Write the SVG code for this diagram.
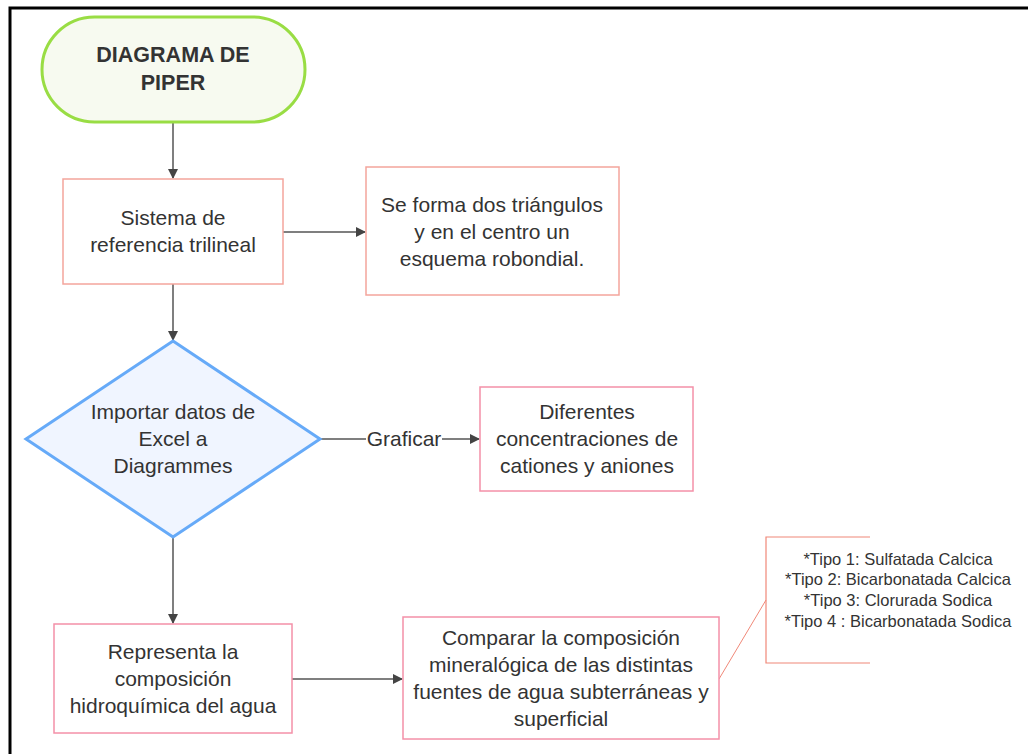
<svg xmlns="http://www.w3.org/2000/svg" width="1028" height="754" viewBox="0 0 1028 754">
<style>
text{font-family:"Liberation Sans",Arial,sans-serif;fill:#333;text-anchor:middle}
.t{font-size:21px}
.s{font-size:16.5px}
.b{font-size:21.5px;font-weight:bold}
.box{fill:#fff;stroke-width:1.5}
.salmon{stroke:#f4a59c}
.pink{stroke:#f490a8}
.c{stroke:#555;stroke-width:1.5;fill:none}
</style>
<defs>
<marker id="ah" markerWidth="10" markerHeight="10" refX="9" refY="5" orient="auto" markerUnits="userSpaceOnUse">
<path d="M0,0 L10,5 L0,10 Z" fill="#444"/>
</marker>
</defs>
<rect x="0" y="0" width="1028" height="754" fill="#fff"/>
<path d="M10,754 L10,8 L1028,8" fill="none" stroke="#000" stroke-width="3"/>
<g id="connectors">
<line class="c" x1="173" y1="122" x2="173" y2="178" marker-end="url(#ah)"/>
<line class="c" x1="283" y1="232" x2="365" y2="232" marker-end="url(#ah)"/>
<line class="c" x1="173" y1="284" x2="173" y2="340" marker-end="url(#ah)"/>
<line class="c" x1="320" y1="439" x2="366" y2="439"/>
<line class="c" x1="442" y1="439" x2="479" y2="439" marker-end="url(#ah)"/>
<text class="t" x="404" y="446">Graficar</text>
<line class="c" x1="173" y1="537" x2="173" y2="623" marker-end="url(#ah)"/>
<line class="c" x1="292" y1="679" x2="402" y2="679" marker-end="url(#ah)"/>
<line x1="719" y1="679" x2="766" y2="600" stroke="#f08878" stroke-width="1"/>
</g>
<g id="start">
<rect x="42" y="17" width="263" height="105" rx="52.5" fill="#f7faf0" stroke="#99dd44" stroke-width="3"/>
<text class="b" x="173" y="62">DIAGRAMA DE</text>
<text class="b" x="173" y="90">PIPER</text>
</g>
<g id="sistema">
<rect class="box salmon" x="63" y="179" width="220" height="105"/>
<text class="t" x="173" y="225">Sistema de</text>
<text class="t" x="173" y="252">referencia trilineal</text>
</g>
<g id="triangulos">
<rect class="box salmon" x="366" y="167" width="253" height="128"/>
<text class="t" x="492" y="212">Se forma dos triángulos</text>
<text class="t" x="492" y="239">y en el centro un</text>
<text class="t" x="492" y="266">esquema robondial.</text>
</g>
<g id="importar">
<polygon points="173,341 320,439 173,537 26,439" fill="#f0f5ff" stroke="#66aaf8" stroke-width="3"/>
<text class="t" x="173" y="419">Importar datos de</text>
<text class="t" x="173" y="446">Excel a</text>
<text class="t" x="173" y="473">Diagrammes</text>
</g>
<g id="diferentes">
<rect class="box pink" x="480" y="387" width="213" height="104"/>
<text class="t" x="587" y="419">Diferentes</text>
<text class="t" x="587" y="446">concentraciones de</text>
<text class="t" x="587" y="473">cationes y aniones</text>
</g>
<g id="representa">
<rect class="box pink" x="54" y="624" width="238" height="109"/>
<text class="t" x="173" y="659">Representa la</text>
<text class="t" x="173" y="686">composición</text>
<text class="t" x="173" y="713">hidroquímica del agua</text>
</g>
<g id="comparar">
<rect class="box pink" x="403" y="617" width="316" height="122"/>
<text class="t" x="561" y="645">Comparar la composición</text>
<text class="t" x="561" y="672">mineralógica de las distintas</text>
<text class="t" x="561" y="699">fuentes de agua subterráneas y</text>
<text class="t" x="561" y="726">superficial</text>
</g>
<g id="tipos">
<path d="M870,537 L766,537 L766,663 L870,663" fill="none" stroke="#f08878" stroke-width="1.2"/>
<text class="s" x="898" y="565">*Tipo 1: Sulfatada Calcica</text>
<text class="s" x="898" y="585">*Tipo 2: Bicarbonatada Calcica</text>
<text class="s" x="898" y="606">*Tipo 3: Clorurada Sodica</text>
<text class="s" x="898" y="627">*Tipo 4 : Bicarbonatada Sodica</text>
</g>
</svg>
